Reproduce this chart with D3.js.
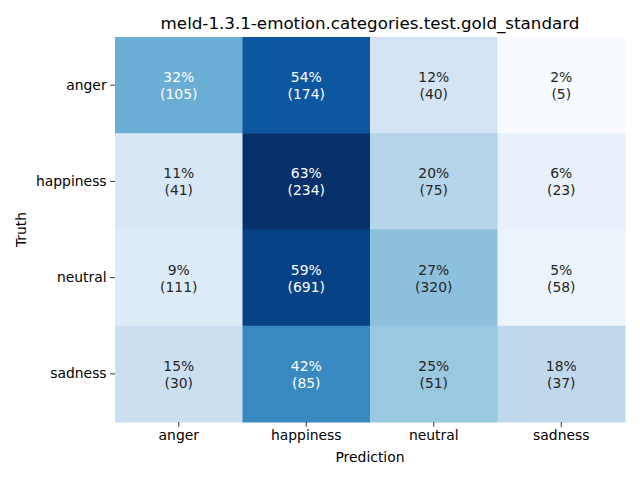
<!DOCTYPE html>
<html>
<head>
<meta charset="utf-8">
<script src="https://cdn.jsdelivr.net/npm/d3@7"></script>
<style>
  body { margin: 0; background: #fff; }
  text { font-family: "DejaVu Sans", sans-serif; }
</style>
</head>
<body>
<svg id="chart" width="640" height="480"></svg>
<script>
const title = "meld-1.3.1-emotion.categories.test.gold_standard";
const truthLabels = ["anger", "happiness", "neutral", "sadness"];
const predLabels = ["anger", "happiness", "neutral", "sadness"];
const counts = [
  [105, 174, 40, 5],
  [41, 234, 75, 23],
  [111, 691, 320, 58],
  [30, 85, 51, 37]
];
const percents = [
  [32, 54, 12, 2],
  [11, 63, 20, 6],
  [9, 59, 27, 5],
  [15, 42, 25, 18]
];
const blues = ["#f7fbff", "#deebf7", "#c6dbef", "#9ecae1", "#6baed6", "#4292c6", "#2171b5", "#08519c", "#08306b"];

const svg = d3.select("#chart");
const margin = {left: 115, right: 15, top: 37, bottom: 58};
const W = 640, H = 480;

// row-normalised fractions drive the colour
const frac = counts.map(r => { const s = d3.sum(r); return r.map(v => v / s); });
const flat = frac.flat();
const vmin = d3.min(flat), vmax = d3.max(flat);
const cmap = d3.scaleLinear()
  .domain(d3.range(blues.length).map(i => vmin + (vmax - vmin) * i / (blues.length - 1)))
  .range(blues)
  .interpolate(d3.interpolateRgb)
  .clamp(true);

const x = d3.scaleBand().domain(predLabels).range([margin.left, W - margin.right]);
const y = d3.scaleBand().domain(truthLabels).range([margin.top, H - margin.bottom]);

const cells = [];
truthLabels.forEach((t, i) => predLabels.forEach((p, j) => {
  cells.push({t, p, c: counts[i][j], pct: percents[i][j], f: frac[i][j]});
}));

function lum(col) {
  const c = d3.rgb(col);
  const ch = [c.r, c.g, c.b].map(v => { v /= 255; return v <= 0.03928 ? v / 12.92 : Math.pow((v + 0.055) / 1.055, 2.4); });
  return 0.2126 * ch[0] + 0.7152 * ch[1] + 0.0722 * ch[2];
}

svg.append("g").selectAll("rect").data(cells).join("rect")
  .attr("x", d => x(d.p))
  .attr("y", d => y(d.t))
  .attr("width", x.bandwidth() + 0.5)
  .attr("height", y.bandwidth() + 0.5)
  .attr("fill", d => cmap(d.f));

const ann = svg.append("g").selectAll("text").data(cells).join("text")
  .attr("text-anchor", "middle")
  .attr("font-size", "13.9px")
  .attr("fill", d => lum(cmap(d.f)) > 0.408 ? "#262626" : "#ffffff");
ann.append("tspan")
  .attr("x", d => x(d.p) + x.bandwidth() / 2)
  .attr("y", d => y(d.t) + y.bandwidth() / 2 - 3)
  .text(d => d.pct + "%");
ann.append("tspan")
  .attr("x", d => x(d.p) + x.bandwidth() / 2)
  .attr("y", d => y(d.t) + y.bandwidth() / 2 + 14)
  .text(d => "(" + d.c + ")");

const xAxis = svg.append("g")
  .attr("transform", `translate(0,${H - margin.bottom})`)
  .call(d3.axisBottom(x).tickSizeOuter(0).tickSize(4.9).tickPadding(3.5));
const yAxis = svg.append("g")
  .attr("transform", `translate(${margin.left},0)`)
  .call(d3.axisLeft(y).tickSizeOuter(0).tickSize(4.9).tickPadding(3.5));
[xAxis, yAxis].forEach(a => {
  a.select(".domain").remove();
  a.selectAll(".tick line").attr("stroke", "#000").attr("stroke-width", 0.8);
  a.selectAll(".tick text").attr("font-size", "13.9px").attr("fill", "#000")
    .attr("font-family", "DejaVu Sans, sans-serif");
});

svg.append("text")
  .attr("x", (margin.left + W - margin.right) / 2)
  .attr("y", 29)
  .attr("text-anchor", "middle")
  .attr("font-size", "16.7px")
  .attr("fill", "#000")
  .text(title);

svg.append("text")
  .attr("x", (margin.left + W - margin.right) / 2)
  .attr("y", 462)
  .attr("text-anchor", "middle")
  .attr("font-size", "13.9px")
  .attr("fill", "#000")
  .text("Prediction");

svg.append("text")
  .attr("transform", `translate(26,${(margin.top + H - margin.bottom) / 2}) rotate(-90)`)
  .attr("text-anchor", "middle")
  .attr("font-size", "13.9px")
  .attr("fill", "#000")
  .text("Truth");
</script>
</body>
</html>
